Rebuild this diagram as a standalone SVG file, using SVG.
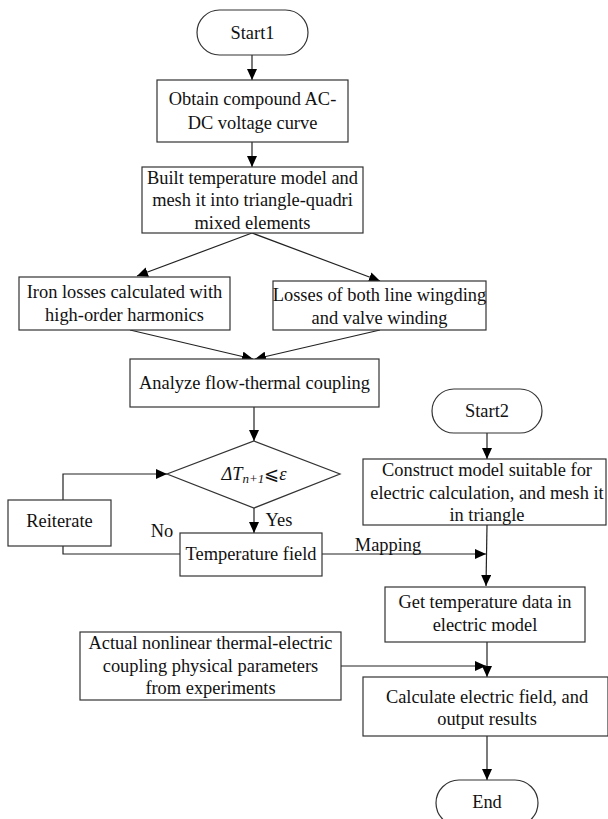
<svg xmlns="http://www.w3.org/2000/svg" width="608" height="819" viewBox="0 0 608 819" font-family="'Liberation Serif', 'Times New Roman', serif">
<style>
.b{fill:#fff;stroke:#333;stroke-width:1.2}
.t{font-family:'Liberation Serif',serif;font-size:18.4px;fill:#111;text-anchor:middle;dominant-baseline:central}
.c{fill:none;stroke:#222;stroke-width:1.2}
.a{marker-end:url(#ah)}
</style>
<defs>
<marker id="ah" markerWidth="12" markerHeight="10" refX="11" refY="5" orient="auto" markerUnits="userSpaceOnUse">
<path d="M0,0 L11,5 L0,10 Z" fill="#000"/>
</marker>
</defs>
<rect width="608" height="819" fill="#fff"/>
<g id="connectors">
<path class="c a" d="M252,55 V80"/>
<path class="c a" d="M252,142 V167"/>
<path class="c a" d="M252,233 L137,276"/>
<path class="c a" d="M252,233 L380,281"/>
<path class="c a" d="M130,330 L253,359"/>
<path class="c a" d="M380,330 L255,359"/>
<path class="c a" d="M254,407 V441"/>
<path class="c a" d="M254,508 V533"/>
<path class="c a" d="M63,500 V474 H167"/>
<path class="c" d="M180,554 H63 V546"/>
<path class="c a" d="M322,554 H486"/>
<path class="c a" d="M487,433 V459"/>
<path class="c a" d="M487,525 L486,586"/>
<path class="c a" d="M487,642 V677"/>
<path class="c a" d="M341,666 H486"/>
<path class="c a" d="M487,736 V780"/>
<text class="t" x="279" y="520">Yes</text>
<text class="t" x="162" y="531">No</text>
<text class="t" x="388" y="545">Mapping</text>
</g>
<g id="start1">
<rect class="b" x="197" y="10" width="111" height="45" rx="22.5"/>
<text class="t" x="252.5" y="33">Start1</text>
</g>
<g id="obtain">
<rect class="b" x="157" y="80" width="191" height="62"/>
<text class="t" x="252.5" y="99">Obtain compound AC-</text>
<text class="t" x="252.5" y="123">DC voltage curve</text>
</g>
<g id="built">
<rect class="b" x="142" y="167" width="221" height="66"/>
<text class="t" x="252.5" y="178">Built temperature model and</text>
<text class="t" x="252.5" y="200">mesh it into triangle-quadri</text>
<text class="t" x="252.5" y="223">mixed elements</text>
</g>
<g id="iron">
<rect class="b" x="19" y="277" width="211" height="53"/>
<text class="t" x="124.5" y="292">Iron losses calculated with</text>
<text class="t" x="124.5" y="315">high-order harmonics</text>
</g>
<g id="losses">
<rect class="b" x="273" y="281" width="213" height="49"/>
<text class="t" x="379.5" y="295">Losses of both line wingding</text>
<text class="t" x="379.5" y="318">and valve winding</text>
</g>
<g id="analyze">
<rect class="b" x="130" y="359" width="249" height="48"/>
<text class="t" x="254.5" y="383">Analyze flow-thermal coupling</text>
</g>
<g id="decision">
<polygon class="b" points="254,441 340,474 254,508 167,474"/>
<text class="t" x="254" y="474" font-style="italic">ΔT<tspan font-size="13" dy="4">n+1</tspan><tspan dy="-4" font-style="normal">⩽</tspan>ε</text>
</g>
<g id="reiterate">
<rect class="b" x="8" y="500" width="103" height="46"/>
<text class="t" x="59.5" y="521">Reiterate</text>
</g>
<g id="tempfield">
<rect class="b" x="180" y="533" width="142" height="43"/>
<text class="t" x="251" y="554">Temperature field</text>
</g>
<g id="start2">
<rect class="b" x="432" y="389" width="110" height="44" rx="22"/>
<text class="t" x="487" y="411">Start2</text>
</g>
<g id="construct">
<rect class="b" x="363" y="459" width="243" height="66"/>
<text class="t" x="487" y="470">Construct model suitable for</text>
<text class="t" x="487" y="493">electric calculation, and mesh it</text>
<text class="t" x="487" y="515">in triangle</text>
</g>
<g id="gettemp">
<rect class="b" x="385" y="587" width="200" height="55"/>
<text class="t" x="485" y="602">Get temperature data in</text>
<text class="t" x="485" y="625">electric model</text>
</g>
<g id="actual">
<rect class="b" x="80" y="632" width="261" height="68"/>
<text class="t" x="210.5" y="643">Actual nonlinear thermal-electric</text>
<text class="t" x="210.5" y="666">coupling physical parameters</text>
<text class="t" x="210.5" y="688">from experiments</text>
</g>
<g id="calculate">
<rect class="b" x="363" y="677" width="245" height="59"/>
<text class="t" x="487" y="697">Calculate electric field, and</text>
<text class="t" x="487" y="719">output results</text>
</g>
<g id="end">
<rect class="b" x="436" y="780" width="102" height="46" rx="23"/>
<text class="t" x="487" y="802">End</text>
</g>
</svg>
